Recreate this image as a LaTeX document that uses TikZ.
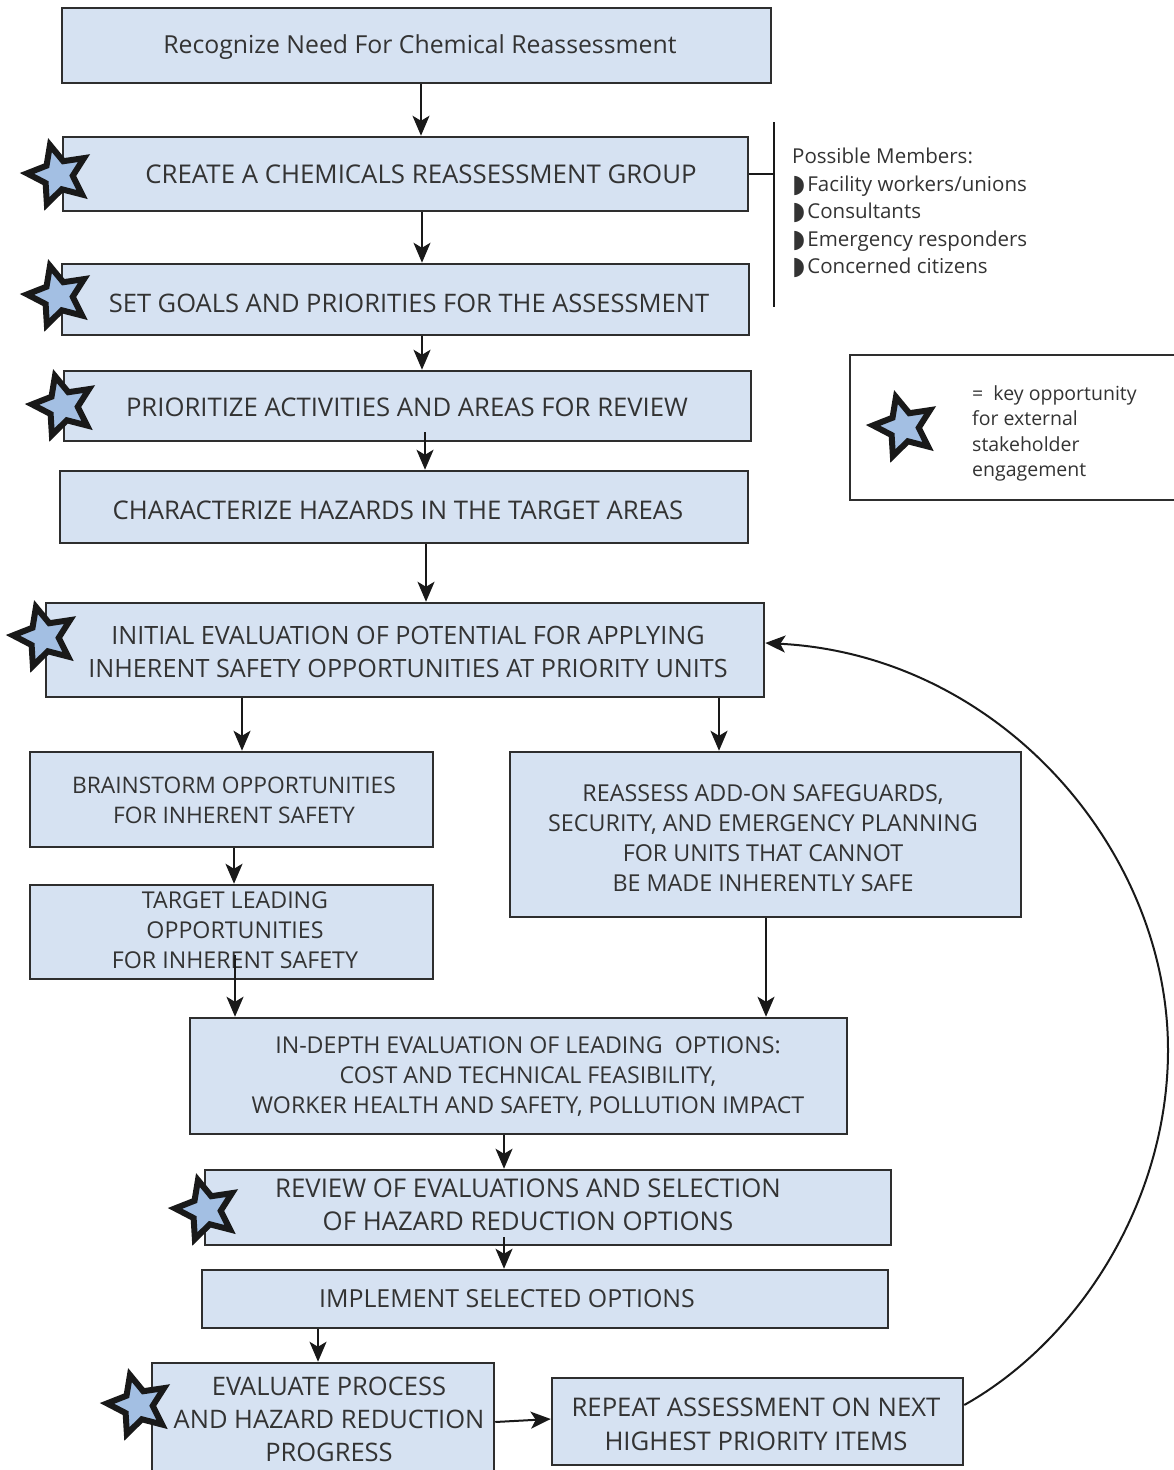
\documentclass[tikz,border=0pt]{standalone}
\usepackage{fontspec}
\setmainfont{Open Sans}
\newfontfamily\dejavu{DejaVu Sans}
\usetikzlibrary{arrows.meta,shapes.geometric}
\definecolor{boxfill}{HTML}{D6E2F2}
\definecolor{boxline}{HTML}{2E2E2E}
\definecolor{starfill}{HTML}{A3BFE3}
\definecolor{txt}{HTML}{333333}
\tikzset{
  flowbox/.style={draw=boxline, fill=boxfill, line width=2.5pt, inner sep=0pt, rectangle},
  boxtext/.style={text=txt, align=center, inner sep=0pt},
  sidetext/.style={text=txt, align=left, inner sep=0pt, anchor=north west, font=\fontsize{20.5}{27.5}\selectfont},
  legtext/.style={text=txt, align=left, inner sep=0pt, anchor=north west, font=\fontsize{19.5}{25.5}\selectfont},
  keystar/.style={star, star points=5, star point ratio=2.1, minimum size=62pt, inner sep=0pt,
    draw=black!90, fill=starfill, line width=6pt, rotate=15},
  flowarrow/.style={draw=black!90, line width=2pt, -{Stealth[length=20pt,width=17pt,inset=5pt]}},
  plainline/.style={draw=black!90, line width=1.5pt}
}
\newcommand{\fsz}[2]{\fontsize{#1}{#2}\selectfont}
\newcommand{\bul}{\raisebox{-1pt}{\dejavu\fontsize{25}{20}\selectfont ◗}\hspace{2pt}}
\begin{document}
\begin{tikzpicture}[x=1pt,y=-1pt]
\useasboundingbox (0,0) rectangle (1173,1470);
% boxes
\node[flowbox, minimum width=709pt, minimum height=75pt] (b1) at (416.5,45.5) {};
\node[flowbox, minimum width=685pt, minimum height=74pt] (b2) at (405.5,174) {};
\node[flowbox, minimum width=687pt, minimum height=71pt] (b3) at (405.5,299.5) {};
\node[flowbox, minimum width=687pt, minimum height=70pt] (b4) at (407.5,406) {};
\node[flowbox, minimum width=688pt, minimum height=72pt] (b5) at (404,507) {};
\node[flowbox, minimum width=718pt, minimum height=94pt] (b6) at (405,650) {};
\node[flowbox, minimum width=403pt, minimum height=95pt] (b7) at (231.5,799.5) {};
\node[flowbox, minimum width=403pt, minimum height=94pt] (b8) at (231.5,932) {};
\node[flowbox, minimum width=511pt, minimum height=165pt] (b9) at (765.5,834.5) {};
\node[flowbox, minimum width=657pt, minimum height=116pt] (b10) at (518.5,1076) {};
\node[flowbox, minimum width=686pt, minimum height=75pt] (b11) at (548,1207.5) {};
\node[flowbox, minimum width=686pt, minimum height=58pt] (b12) at (545,1299) {};
\node[flowbox, minimum width=342pt, minimum height=117pt] (b13) at (323,1421.5) {};
\node[flowbox, minimum width=411pt, minimum height=87pt] (b14) at (757.5,1421.5) {};
% texts
\node[boxtext, font=\fsz{24.8}{30}] (t1) at (420,47) {Recognize Need For Chemical Reassessment};
\node[boxtext, font=\fsz{25.8}{30}] (t2) at (421,174) {CREATE A CHEMICALS REASSESSMENT GROUP};
\node[boxtext, font=\fsz{25.5}{30}] (t3) at (409,303) {SET GOALS AND PRIORITIES FOR THE ASSESSMENT};
\node[boxtext, font=\fsz{25.7}{30}] (t4) at (407,407) {PRIORITIZE ACTIVITIES AND AREAS FOR REVIEW};
\node[boxtext, font=\fsz{25.7}{30}] (t5) at (398,510) {CHARACTERIZE HAZARDS IN THE TARGET AREAS};
\node[boxtext, font=\fsz{25.2}{33}] (t6) at (408,652) {INITIAL EVALUATION OF POTENTIAL FOR APPLYING\\INHERENT SAFETY OPPORTUNITIES AT PRIORITY UNITS};
\node[boxtext, font=\fsz{22.8}{30}] (t7) at (234,800) {BRAINSTORM OPPORTUNITIES\\FOR INHERENT SAFETY};
\node[boxtext, font=\fsz{23.2}{30}] (t8) at (235,930) {TARGET LEADING\\OPPORTUNITIES\\FOR INHERENT SAFETY};
\node[boxtext, font=\fsz{23.3}{30}] (t9) at (763,838) {REASSESS ADD-ON SAFEGUARDS,\\SECURITY, AND EMERGENCY PLANNING\\FOR UNITS THAT CANNOT\\BE MADE INHERENTLY SAFE};
\node[boxtext, font=\fsz{23.2}{30}] (t10) at (528,1077) {IN-DEPTH EVALUATION OF LEADING\ \ OPTIONS:\\COST AND TECHNICAL FEASIBILITY,\\WORKER HEALTH AND SAFETY, POLLUTION IMPACT};
\node[boxtext, font=\fsz{25.8}{33}] (t11) at (528,1205) {REVIEW OF EVALUATIONS AND SELECTION\\OF HAZARD REDUCTION OPTIONS};
\node[boxtext, font=\fsz{24.9}{30}] (t12) at (507,1299) {IMPLEMENT SELECTED OPTIONS};
\node[boxtext, font=\fsz{25.5}{33}] (t13) at (329,1419) {EVALUATE PROCESS\\AND HAZARD REDUCTION\\PROGRESS};
\node[boxtext, font=\fsz{25.7}{34}] (t14) at (756,1424) {REPEAT ASSESSMENT ON NEXT\\HIGHEST PRIORITY ITEMS};
% stars
\node[keystar] (s2) at (58,175) {};
\node[keystar] (s3) at (58,296) {};
\node[keystar] (s4) at (63,406) {};
\node[keystar] (s6) at (44,637) {};
\node[keystar] (s11) at (206,1210) {};
\node[keystar] (s13) at (138,1405) {};
% arrows
\draw[flowarrow] (b1.south -| 421,0) -- (b2.north -| 421,0);
\draw[flowarrow] (b2.south -| 422,0) -- (b3.north -| 422,0);
\draw[flowarrow] (b3.south -| 422,0) -- (b4.north -| 422,0);
\draw[flowarrow] (425,432) -- (b5.north -| 425,0);
\draw[flowarrow] (b5.south -| 426,0) -- (b6.north -| 426,0);
\draw[flowarrow] (b6.south -| 242,0) -- (b7.north -| 242,0);
\draw[flowarrow] (b6.south -| 719,0) -- (b9.north -| 719,0);
\draw[flowarrow] (b7.south -| 234,0) -- (b8.north -| 234,0);
\draw[flowarrow] (235,955) -- (b10.north -| 235,0);
\draw[flowarrow] (b9.south -| 766,0) -- (b10.north -| 766,0);
\draw[flowarrow] (b10.south -| 504,0) -- (b11.north -| 504,0);
\draw[flowarrow] (504,1237) -- (b12.north -| 504,0);
\draw[flowarrow] (b12.south -| 318,0) -- (b13.north -| 318,0);
\draw[flowarrow] (b13.east |- 0,1422) -- (b14.west |- 0,1419);
\coordinate (peak) at (1168,1050);
\draw[flowarrow] (b14.east |- 0,1405) .. controls (1080,1340) and (1168,1200) .. (peak)
   .. controls (1168,850) and (1000,655) .. (b6.east |- 0,643);
% possible members bracket
\coordinate (brtop) at (774,122);
\coordinate (brbot) at (774,307);
\draw[plainline] (brtop) -- (brbot);
\draw[plainline] (b2.east) -- (b2.east -| brtop);
\node[sidetext] (members) at (792,148) {Possible Members:\\\bul Facility workers/unions\\\bul Consultants\\\bul Emergency responders\\\bul Concerned citizens};
% legend
\node[draw=boxline, line width=2pt, minimum width=330pt, minimum height=145pt, inner sep=0pt, anchor=north west] (legend) at (849,354) {};
\node[keystar] (slegend) at (904,427) {};
\node[legtext] (legtxt) at (972,385) {=\ \ key opportunity\\for external\\stakeholder\\engagement};
\end{tikzpicture}
\end{document}
